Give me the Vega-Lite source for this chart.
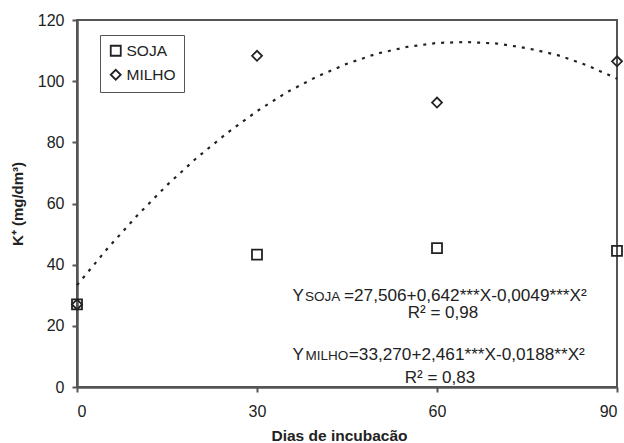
{
  "$schema": "https://vega.github.io/schema/vega-lite/v6.json",
  "width": 540,
  "height": 367,
  "autosize": {"type": "none"},
  "padding": {"left": 77, "top": 20, "right": 7, "bottom": 56},
  "background": "white",
  "config": {
    "view": {"stroke": "#555", "strokeWidth": 2},
    "font": "Liberation Sans",
    "axis": {"grid": false, "domainColor": "#555", "domainWidth": 2.5, "tickColor": "#555", "tickWidth": 2, "labelColor": "#222", "titleColor": "#222", "labelFont": "Liberation Sans", "titleFont": "Liberation Sans"}
  },
  "datasets": {
    "pts": [
      {"dias": 0, "k": 27, "cultura": "SOJA"},
      {"dias": 30, "k": 43.3, "cultura": "SOJA"},
      {"dias": 60, "k": 45.4, "cultura": "SOJA"},
      {"dias": 90, "k": 44.5, "cultura": "SOJA"},
      {"dias": 0, "k": 27, "cultura": "MILHO"},
      {"dias": 30, "k": 108.3, "cultura": "MILHO"},
      {"dias": 60, "k": 93, "cultura": "MILHO"},
      {"dias": 90, "k": 106.5, "cultura": "MILHO"}
    ],
    "curva": [
      {"dias": 0, "k": 33.3}, {"dias": 5, "k": 45.1}, {"dias": 10, "k": 56.0},
      {"dias": 15, "k": 66.0}, {"dias": 20, "k": 75.0}, {"dias": 25, "k": 83.0},
      {"dias": 30, "k": 90.2}, {"dias": 35, "k": 96.4}, {"dias": 40, "k": 101.5},
      {"dias": 45, "k": 105.7}, {"dias": 50, "k": 109.0}, {"dias": 55, "k": 111.2},
      {"dias": 60, "k": 112.5}, {"dias": 65, "k": 112.8}, {"dias": 70, "k": 112.3},
      {"dias": 75, "k": 110.8}, {"dias": 80, "k": 108.6}, {"dias": 85, "k": 105.2},
      {"dias": 90, "k": 100.8}
    ],
    "eqY": [
      {"dias": 37.8, "k": 29.8, "txt": "Y"},
      {"dias": 37.8, "k": 10.5, "txt": "Y"}
    ],
    "eqSub": [
      {"dias": 38.0, "k": 29.8, "txt": "SOJA"},
      {"dias": 38.1, "k": 10.5, "txt": "MILHO"}
    ],
    "eqMain": [
      {"dias": 44.5, "k": 29.8, "txt": "=27,506+0,642***X-0,0049***X²"},
      {"dias": 45.3, "k": 10.5, "txt": "=33,270+2,461***X-0,0188**X²"}
    ],
    "r2": [
      {"dias": 61.0, "k": 24.2, "txt": "R² = 0,98"},
      {"dias": 60.5, "k": 2.9, "txt": "R² = 0,83"}
    ]
  },
  "layer": [
    {
      "data": {"name": "curva"},
      "mark": {"type": "line", "color": "#222", "strokeWidth": 2.2, "strokeDash": [3, 6], "clip": false},
      "encoding": {
        "x": {"field": "dias", "type": "quantitative", "scale": {"domain": [0, 90], "nice": false},
          "axis": {"values": [0, 30, 60, 90], "title": "Dias de incubacão", "titleFontSize": 15.5, "titleFontWeight": "bold", "labelFontSize": 16, "labelPadding": 11, "tickSize": 5, "titlePadding": 9, "titleX": 262}},
        "y": {"field": "k", "type": "quantitative", "scale": {"domain": [0, 120], "nice": false},
          "axis": {"values": [0, 20, 40, 60, 80, 100, 120], "title": "K⁺ (mg/dm³)", "titleFontSize": 15, "titleFontWeight": "bold", "labelFontSize": 16, "labelPadding": 8, "tickSize": 5, "titlePadding": 12}}
      }
    },
    {
      "data": {"name": "pts"},
      "mark": {"type": "point", "filled": false, "strokeWidth": 1.8, "opacity": 1, "clip": false, "color": "#222", "size": 100},
      "encoding": {
        "x": {"field": "dias", "type": "quantitative"},
        "y": {"field": "k", "type": "quantitative"},
        "shape": {"field": "cultura", "type": "nominal",
          "scale": {"domain": ["SOJA", "MILHO"], "range": ["square", "diamond"]},
          "legend": {"title": null, "orient": "none", "legendX": 23, "legendY": 15, "strokeColor": "#555", "padding": 8, "labelFontSize": 15.5, "labelColor": "#222", "symbolStrokeWidth": 1.8, "symbolStrokeColor": "#222", "symbolSize": 100, "rowPadding": 6, "labelOffset": 3}},
        "order": {"field": "cultura", "sort": "descending"}
      }
    },
    {
      "data": {"name": "eqY"},
      "mark": {"type": "text", "fontSize": 17, "color": "#222", "align": "right", "baseline": "middle"},
      "encoding": {
        "x": {"field": "dias", "type": "quantitative"},
        "y": {"field": "k", "type": "quantitative"},
        "text": {"field": "txt"}
      }
    },
    {
      "data": {"name": "eqSub"},
      "mark": {"type": "text", "fontSize": 13.5, "color": "#222", "align": "left", "baseline": "middle", "dy": 1.5},
      "encoding": {
        "x": {"field": "dias", "type": "quantitative"},
        "y": {"field": "k", "type": "quantitative"},
        "text": {"field": "txt"}
      }
    },
    {
      "data": {"name": "eqMain"},
      "mark": {"type": "text", "fontSize": 17.2, "color": "#222", "align": "left", "baseline": "middle"},
      "encoding": {
        "x": {"field": "dias", "type": "quantitative"},
        "y": {"field": "k", "type": "quantitative"},
        "text": {"field": "txt"}
      }
    },
    {
      "data": {"name": "r2"},
      "mark": {"type": "text", "fontSize": 17, "color": "#222", "align": "center", "baseline": "middle"},
      "encoding": {
        "x": {"field": "dias", "type": "quantitative"},
        "y": {"field": "k", "type": "quantitative"},
        "text": {"field": "txt"}
      }
    }
  ]
}
